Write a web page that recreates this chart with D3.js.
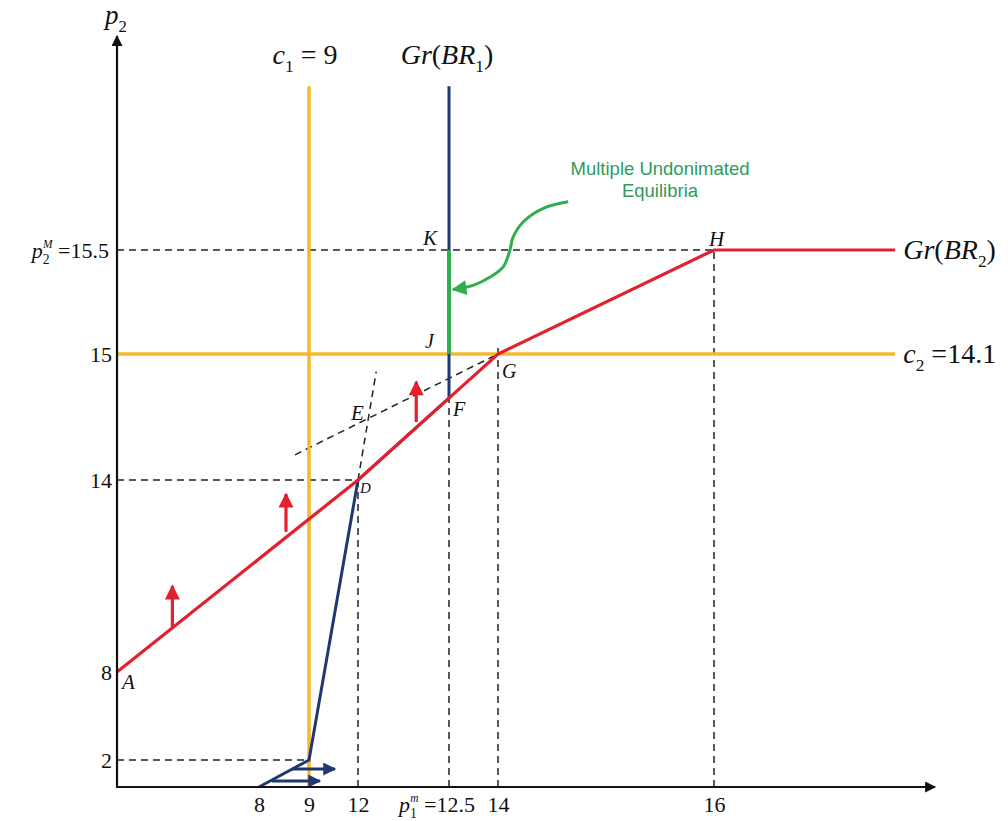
<!DOCTYPE html>
<html>
<head>
<meta charset="utf-8">
<script src="https://cdn.jsdelivr.net/npm/d3@7"></script>
<style>
    body { margin: 0; background: #fff; }
    svg { display: block; }
</style>
</head>
<body>
<svg id="chart" width="1008" height="821"></svg>
<script>
// axis stops (the picture is drawn on a bent, piecewise scale)
var xStops = [7, 8, 9, 12, 12.5, 14, 16, 18];
var yStops = [0, 2, 8, 14, 15, 15.5, 17.5];
var xTicks = [8, 9, 12, 14, 16];
var yTicks = [2, 8, 14, 15];

var c1 = 9, c2 = 15, topY = 17.03, endX = 17.64;

// best response of firm 1 (blue)
var br1X = [8, 9, 12, 12.5, 12.5];
var br1Y = [0, 2, 14, 14.65, topY];

// best response of firm 2 (red)
var br2X = [7, 12, 12.5, 14, 16, endX];
var br2Y = [8, 14, 14.65, 15, 15.5, 15.5];

// undominated equilibria segment J-K
var eqX = [12.5, 12.5];
var eqY = [15, 15.5];

// dashed guides: x1, y1, x2, y2
var guides = [
    [7, 15.5, 16, 15.5],
    [7, 14, 12, 14],
    [7, 2, 9, 2],
    [12, 0, 12, 14],
    [12.5, 0, 12.5, 14.65],
    [14, 0, 14, 15.05],
    [16, 0, 16, 15.5],
    [12, 14, 12.1, 14.86],
    [8.72, 14.2, 14, 15]
];

// shift arrows: x, from y, to y
var redArrows = [
    [7.39, 9.41, 10.69],
    [8.54, 12.38, 13.56],
    [12.32, 14.46, 14.78]
];
// horizontal arrows: y, from x, to x
var blueArrows = [
    [1.33, 8.66, 10.59],
    [0.44, 8.26, 9.67]
];

// points: name, x, y
var pointNames = ['A', 'D', 'E', 'F', 'G', 'J', 'K', 'H'];
var pointX = [7, 12, 12.05, 12.5, 14, 12.5, 12.5, 16];
var pointY = [8, 14, 14.5, 14.65, 15, 15, 15.5, 15.5];

// annotation curve
var noteX = [14.65, 14.42, 14.23, 14.14, 14.11, 14.05, 13.76, 13.24, 12.62];
var noteY = [15.95, 15.89, 15.76, 15.62, 15.5, 15.42, 15.37, 15.33, 15.31];
var noteLines = ['Multiple Undonimated', 'Equilibria'];

var colors = {
    red: '#e2202e',
    blue: '#1f3870',
    yellow: '#f5b82b',
    green: '#2fae4c',
    note: '#2e9a5e'
};

var serif = '"Liberation Serif", "Times New Roman", serif';

var svg = d3.select('#chart');

var x = d3.scaleLinear().domain(xStops).range([117, 259, 309, 358, 449, 498, 714, 935]);
var y = d3.scaleLinear().domain(yStops).range([787, 760, 672, 480, 354, 250, 36]);

var defs = svg.append('defs');
var addHead = function (id, color, w, h) {
    defs.append('marker')
        .attr('id', id)
        .attr('markerUnits', 'userSpaceOnUse')
        .attr('viewBox', '0 0 10 10')
        .attr('refX', 9).attr('refY', 5)
        .attr('markerWidth', w).attr('markerHeight', h)
        .attr('orient', 'auto')
        .append('path')
        .attr('d', 'M0,0L10,5L0,10z')
        .attr('fill', color);
};
addHead('headBlack', '#111', 13, 11);
addHead('headRed', colors.red, 16, 15);
addHead('headBlue', colors.blue, 16, 13);
addHead('headGreen', colors.green, 17, 15);

// text with sub/superscripts: parts are [text, style]
// style: i = italic, sub, sup (stacked over the previous sub), back = dy in em
var mathText = function (g, parts, size) {
    var t = g.append('text')
        .attr('font-family', serif)
        .attr('font-size', size)
        .attr('fill', '#111');
    parts.forEach(function (p) {
        var s = t.append('tspan').text(p[0]);
        var st = p[1] || {};
        if (st.i) s.attr('font-style', 'italic');
        if (st.sub) s.attr('font-size', size * 0.62).attr('dy', size * 0.28);
        if (st.sup) {
            s.attr('font-size', size * 0.52).attr('font-style', 'italic')
                .attr('dy', -size * 0.72).attr('dx', -size * 0.3);
        }
        if (st.back) s.attr('dy', st.back * size);
    });
    return t;
};

var line = d3.line()
    .x(function (d) { return x(d[0]); })
    .y(function (d) { return y(d[1]); });

var zip = function (xs, ys) {
    return xs.map(function (v, i) { return [v, ys[i]]; });
};

// dashed guides
svg.append('g').selectAll('line').data(guides).join('line')
    .attr('x1', function (d) { return x(d[0]); })
    .attr('y1', function (d) { return y(d[1]); })
    .attr('x2', function (d) { return x(d[2]); })
    .attr('y2', function (d) { return y(d[3]); })
    .attr('stroke', '#222')
    .attr('stroke-width', 1.5)
    .attr('stroke-dasharray', '7,5');

// constraint lines
svg.append('path').attr('d', line([[c1, 0], [c1, topY]]))
    .attr('stroke', colors.yellow).attr('stroke-width', 3.5).attr('fill', 'none');
svg.append('path').attr('d', line([[7, c2], [endX, c2]]))
    .attr('stroke', colors.yellow).attr('stroke-width', 3.5).attr('fill', 'none');

// best responses
svg.append('path').attr('d', line(zip(br1X, br1Y)))
    .attr('stroke', colors.blue).attr('stroke-width', 3).attr('fill', 'none');
svg.append('path').attr('d', line(zip(br2X, br2Y)))
    .attr('stroke', colors.red).attr('stroke-width', 3.2).attr('fill', 'none');
svg.append('path').attr('d', line(zip(eqX, eqY)))
    .attr('stroke', colors.green).attr('stroke-width', 4).attr('fill', 'none');

// shift arrows
svg.append('g').selectAll('line').data(redArrows).join('line')
    .attr('x1', function (d) { return x(d[0]); })
    .attr('x2', function (d) { return x(d[0]); })
    .attr('y1', function (d) { return y(d[1]); })
    .attr('y2', function (d) { return y(d[2]); })
    .attr('stroke', colors.red).attr('stroke-width', 3.2)
    .attr('marker-end', 'url(#headRed)');

svg.append('g').selectAll('line').data(blueArrows).join('line')
    .attr('x1', function (d) { return x(d[1]); })
    .attr('x2', function (d) { return x(d[2]); })
    .attr('y1', function (d) { return y(d[0]); })
    .attr('y2', function (d) { return y(d[0]); })
    .attr('stroke', colors.blue).attr('stroke-width', 3)
    .attr('marker-end', 'url(#headBlue)');

// annotation
var curve = d3.line()
    .x(function (d) { return x(d[0]); })
    .y(function (d) { return y(d[1]); })
    .curve(d3.curveCatmullRom);
svg.append('path')
    .attr('d', curve(zip(noteX, noteY)))
    .attr('stroke', colors.green).attr('stroke-width', 3).attr('fill', 'none')
    .attr('marker-end', 'url(#headGreen)');

svg.append('text')
    .attr('y', y(16.2))
    .attr('text-anchor', 'middle')
    .attr('font-family', '"Liberation Sans", Arial, sans-serif')
    .attr('font-size', 18.5)
    .attr('fill', colors.note)
    .selectAll('tspan').data(noteLines).join('tspan')
    .attr('x', x(15.5))
    .attr('dy', function (d, i) { return i ? 22 : 0; })
    .text(function (d) { return d; });

// axes
var xAxis = svg.append('g')
    .attr('transform', 'translate(0,' + y(0) + ')')
    .call(d3.axisBottom(x).tickValues(xTicks).tickSize(0).tickPadding(9).tickFormat(d3.format('d')));
xAxis.select('.domain').remove();

var yAxis = svg.append('g')
    .attr('transform', 'translate(' + x(7) + ',0)')
    .call(d3.axisLeft(y).tickValues(yTicks).tickSize(0).tickPadding(5).tickFormat(d3.format('d')));
yAxis.select('.domain').remove();

[xAxis, yAxis].forEach(function (a) {
    a.attr('font-family', serif).attr('font-size', 22);
    a.selectAll('text')
        .attr('font-family', serif)
        .attr('font-size', 22)
        .attr('fill', '#111');
});

svg.append('line')
    .attr('x1', x(7) - 1).attr('x2', x(18))
    .attr('y1', y(0)).attr('y2', y(0))
    .attr('stroke', '#111').attr('stroke-width', 2.2)
    .attr('marker-end', 'url(#headBlack)');
svg.append('line')
    .attr('x1', x(7)).attr('x2', x(7))
    .attr('y1', y(0) + 1).attr('y2', y(17.5))
    .attr('stroke', '#111').attr('stroke-width', 2.2)
    .attr('marker-end', 'url(#headBlack)');

// special tick labels
mathText(svg, [['p', {i: true}], ['1', {sub: true}], ['m', {sup: true}], [' =12.5', {back: 0.44}]], 22)
    .attr('x', x(12.5) - 12).attr('y', y(0) + 25)
    .attr('text-anchor', 'middle');
mathText(svg, [['p', {i: true}], ['2', {sub: true}], ['M', {sup: true}], [' =15.5', {back: 0.44}]], 22)
    .attr('x', x(7) - 8).attr('y', y(15.5) + 8)
    .attr('text-anchor', 'end');

// axis name
mathText(svg, [['p', {i: true}], ['2', {sub: true}]], 27)
    .attr('x', x(7) - 12).attr('y', 24);

// curve labels
mathText(svg, [['c', {i: true}], ['1', {sub: true}], [' = 9', {back: -0.28}]], 28)
    .attr('x', x(c1) - 4).attr('y', y(topY) - 22).attr('text-anchor', 'middle');
mathText(svg, [['Gr', {i: true}], ['('], ['BR', {i: true}], ['1', {sub: true}], [')', {back: -0.28}]], 28)
    .attr('x', x(12.5) - 2).attr('y', y(topY) - 22).attr('text-anchor', 'middle');
mathText(svg, [['Gr', {i: true}], ['('], ['BR', {i: true}], ['2', {sub: true}], [')', {back: -0.28}]], 28)
    .attr('x', x(endX) + 8).attr('y', y(15.5) + 9);
mathText(svg, [['c', {i: true}], ['2', {sub: true}], [' =14.1', {back: -0.28}]], 28)
    .attr('x', x(endX) + 8).attr('y', y(c2) + 9);

// point labels
var labelOffset = {
    A: [5, 17, 21], D: [2, 13, 15], E: [-16, 3, 21], F: [4, 18, 20],
    G: [4, 24, 20], J: [-24, -6, 20], K: [-26, -5, 21], H: [-5, -4, 21]
};
pointNames.forEach(function (name, i) {
    var o = labelOffset[name];
    mathText(svg, [[name, {i: true}]], o[2])
        .attr('x', x(pointX[i]) + o[0])
        .attr('y', y(pointY[i]) + o[1]);
});
</script>
</body>
</html>
